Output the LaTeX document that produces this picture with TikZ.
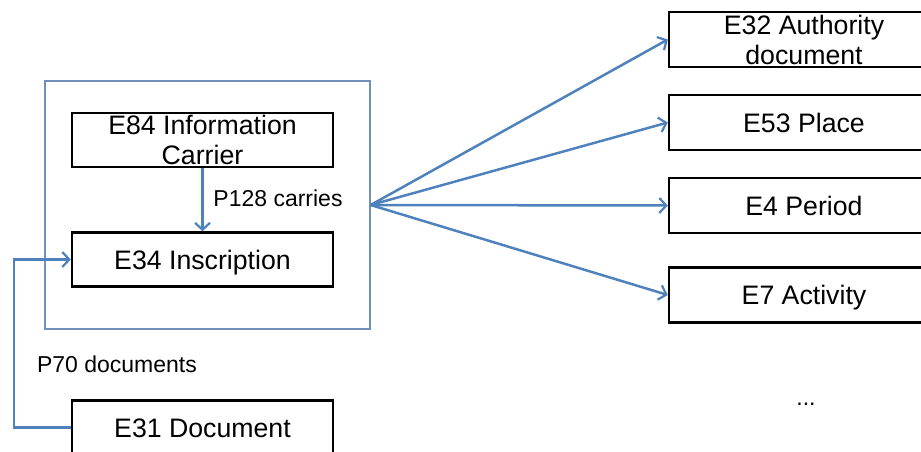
\documentclass[tikz,border=0pt]{standalone}
\usepackage{fontspec}
\setmainfont{Liberation Sans}
\usetikzlibrary{arrows.meta,positioning}

\definecolor{linkblue}{HTML}{4F81BD}
\definecolor{framegray}{HTML}{7090BE}

\tikzset{
  entity/.style={draw=black,line width=2.4pt,inner sep=0pt,
    minimum width=261pt,minimum height=54pt,text height=22pt,text depth=3pt,
    font=\fontsize{26.7}{30}\selectfont},
  link/.style={draw=linkblue,line width=2.5pt,
    -{Straight Barb[length=7pt,width=15pt,line width=2.2pt]}},
  prop/.style={inner sep=0pt,font=\fontsize{23}{26}\selectfont}
}

\begin{document}
\begin{tikzpicture}[x=1pt,y=-1pt]
  \useasboundingbox (0,0) rectangle (921,452);
  \clip (0,0) rectangle (921,452);
  % Container
  \node[draw=framegray,line width=1.3pt,minimum width=325pt,minimum height=248pt] (frame) at (207.5,205) {};
  \node[entity,label={[align=center,font=\fontsize{26.7}{30}\selectfont]center:E84 Information\\Carrier}] (carrier) at (202.5,140) {};
  \node[entity] (inscr) at (202.5,259.5) {E34 Inscription};
  \draw[link] (carrier.south) -- (inscr.north);
  \node[prop] (carries) at (278,198) {P128 carries};
  % Document
  \node[entity] (doc) at (202.5,427.5) {E31 Document};
  \draw[link] (doc.west) -- ++(-57,0) |- (inscr.west);
  \node[prop] (documents) at (117,364) {P70 documents};
  % Targets
  \begin{scope}[entity/.append style={minimum width=270pt,minimum height=55pt}]
    \node[entity,label={[align=center,font=\fontsize{26.7}{30}\selectfont]center:E32 Authority\\document}] (authority) at (804,39.5) {};
    \node[entity] (place) at (804,122.5) {E53 Place};
    \node[entity] (period) at (804,205.5) {E4 Period};
    \node[entity] (activity) at (804,295) {E7 Activity};
  \end{scope}
  \foreach \t in {authority,place,period,activity}
    \draw[link] (frame.east) -- (\t.west);
  \node[prop] (more) at (806,404) {...};
\end{tikzpicture}
\end{document}
